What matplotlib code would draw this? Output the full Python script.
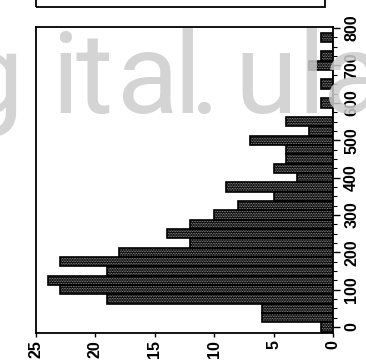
import numpy as np
import matplotlib
matplotlib.use('Agg')
import matplotlib.pyplot as plt
from matplotlib.patches import Rectangle

# class centres (width 25) and counts
centres = [0, 25, 50, 75, 100, 125, 150, 175, 200, 225, 250, 275, 300, 325,
           350, 375, 400, 425, 450, 475, 500, 525, 550, 575, 600, 625, 650,
           675, 700, 725, 750, 775]
counts = [1, 6, 6, 19, 23, 24, 19, 23, 18, 12, 14, 12, 10, 8,
          5, 9, 3, 5, 4, 4, 7, 2, 4, 0, 1, 0, 1,
          0, 2, 1, 0, 1]
count_ticks = [0, 5, 10, 15, 20, 25]
class_ticks = [0, 100, 200, 300, 400, 500, 600, 700, 800]

plt.rcParams['font.family'] = ['Liberation Sans', 'DejaVu Sans']
plt.rcParams['hatch.linewidth'] = 0.4

fig = plt.figure(figsize=(3.66, 3.6), dpi=100)
ax = fig.add_axes([0.0984, 0.075, 0.8115, 0.85])

#-----------------------------------------------------------------------------
# stippled bars: black base, light dots on top, black outline
ax.barh(centres, counts, height=25, color='#0a0a0a', linewidth=0, zorder=2)
ax.barh(centres, counts, height=25, facecolor='none', edgecolor='#b8b8b8',
        hatch='.' * 10, linewidth=0, zorder=3)
ax.barh(centres, counts, height=25, facecolor='none', edgecolor='black',
        linewidth=1.2, zorder=4)

ax.set_xlim(25, 0)
ax.set_ylim(-16, 803)
ax.set_xticks(count_ticks)
ax.set_xticklabels([str(t) for t in count_ticks], rotation=90,
                   fontsize=11.5, fontweight='bold', va='top')
ax.yaxis.tick_right()
ax.set_yticks(class_ticks)
ax.set_yticks(np.arange(0, 801, 25), minor=True)
ax.set_yticklabels([str(t) for t in class_ticks], rotation=90,
                   fontsize=11.5, fontweight='bold', va='center')
ax.tick_params(axis='x', direction='out', length=3, width=1, pad=2)
ax.tick_params(axis='y', which='major', direction='out', length=5, width=1, pad=3)
ax.tick_params(axis='y', which='minor', direction='out', length=3, width=0.8)
for s in ax.spines.values():
    s.set_linewidth(1.3)

# box of the panel above
fig.add_artist(Rectangle((0.0984, 0.9806), 0.789, 0.2, transform=fig.transFigure,
                         facecolor='none', edgecolor='black', linewidth=1.3,
                         clip_on=False))

# site watermark, one glyph at a time (pixel centres across the figure)
W, H = 366.0, 360.0
marks = [('g', -8), ('i', 65), ('t', 94), ('a', 148), ('l', 187), ('.', 205),
         ('u', 266), ('l', 311), ('a', 354)]
for ch, xc in marks:
    fig.text(xc / W, 1 - 113 / H, ch, family='Roboto', fontsize=82,
             color='#cdcdcd', alpha=0.85, ha='center', va='baseline', zorder=10)

fig.savefig('out.png', dpi=100)
